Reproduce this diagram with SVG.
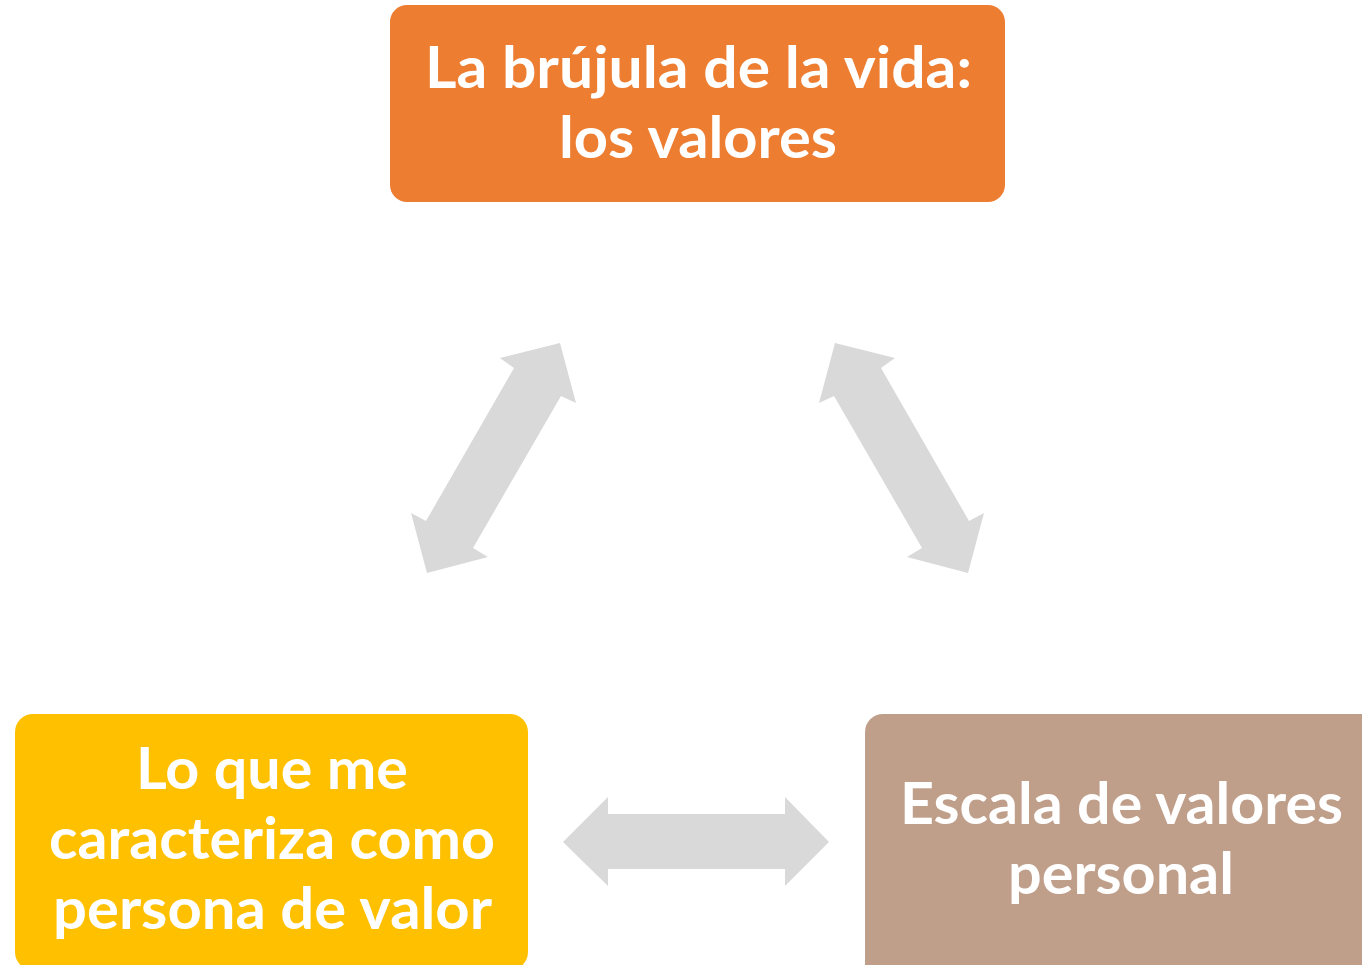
<svg xmlns="http://www.w3.org/2000/svg" width="1362" height="965" viewBox="0 0 1362 965">
<style>
.t{font-family:Lato,"Open Sans","Liberation Sans",sans-serif;font-weight:bold;font-size:57px;fill:#FFFFFF;}
.arr{fill:#D9D9D9;}
</style>
<rect width="1362" height="965" fill="#FFFFFF"/>
<g id="connectors">
<polygon class="arr" points="500,358 560,343 576,403 561,396 473,548 488,557 427,573 411,513 426,521 514,368"/>
<polygon class="arr" points="895,358 835,343 819,403 834,396 922,548 907,557 968,573 984,513 969,521 881,368"/>
<polygon class="arr" points="563,842 608,797 608,814 785,814 785,797 829,842 785,886 785,869 608,869 608,886"/>
</g>
<g id="node-top">
<rect x="390" y="5" width="615" height="197" rx="17" fill="#ED7D31"/>
<text class="t" x="425" y="88" textLength="547" lengthAdjust="spacingAndGlyphs">La brújula de la vida:</text>
<text class="t" x="559" y="158" textLength="278" lengthAdjust="spacingAndGlyphs">los valores</text>
</g>
<g id="node-left">
<rect x="15" y="714" width="513" height="256" rx="18" fill="#FFC000"/>
<text class="t" x="136" y="789" textLength="272" lengthAdjust="spacingAndGlyphs">Lo que me</text>
<text class="t" x="49" y="859" textLength="446" lengthAdjust="spacingAndGlyphs">caracteriza como</text>
<text class="t" x="53" y="929" textLength="439" lengthAdjust="spacingAndGlyphs">persona de valor</text>
</g>
<g id="node-right">
<rect x="865" y="714" width="520" height="270" rx="18" fill="#BF9E8A"/>
<text class="t" x="900" y="824" textLength="443" lengthAdjust="spacingAndGlyphs">Escala de valores</text>
<text class="t" x="1008" y="894" textLength="226" lengthAdjust="spacingAndGlyphs">personal</text>
</g>
</svg>
